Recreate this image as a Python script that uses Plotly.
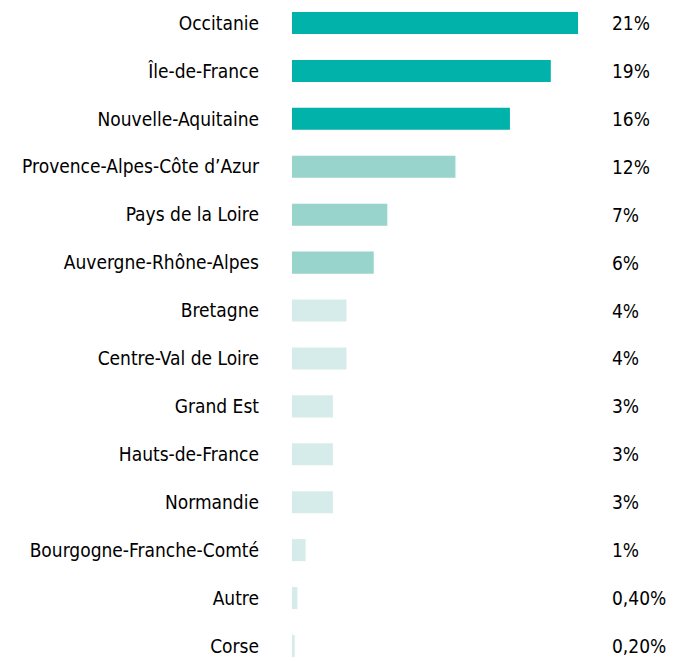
import plotly.graph_objects as go

regions = ["Occitanie", "Île-de-France", "Nouvelle-Aquitaine", "Provence-Alpes-Côte d’Azur",
           "Pays de la Loire", "Auvergne-Rhône-Alpes", "Bretagne", "Centre-Val de Loire",
           "Grand Est", "Hauts-de-France", "Normandie", "Bourgogne-Franche-Comté",
           "Autre", "Corse"]
shares = [21, 19, 16, 12, 7, 6, 4, 4, 3, 3, 3, 1, 0.4, 0.2]
share_labels = ["21%", "19%", "16%", "12%", "7%", "6%", "4%", "4%", "3%", "3%", "3%",
                "1%", "0,40%", "0,20%"]

DARK, MID, LIGHT = "#00b2a9", "#98d3cc", "#d6ecea"
colors = [DARK if v >= 15 else MID if v >= 5 else LIGHT for v in shares]

FONT = "DejaVu Sans Condensed, Liberation Sans Narrow, Arial Narrow, sans-serif"
SIZE = 19

fig = go.Figure(go.Bar(
    x=shares, y=regions, orientation="h",
    marker=dict(color=colors, line=dict(width=0)),
    width=0.46, hoverinfo="skip",
))

for r, lab in zip(regions, share_labels):
    fig.add_annotation(x=1.006, xref="paper", y=r, yref="y", text=lab,
                       showarrow=False, xanchor="left",
                       font=dict(family=FONT, size=SIZE, color="#000"))

# the page body adds an 8px offset, so margins/ranges are shifted to compensate
fig.update_layout(
    width=683, height=661,
    margin=dict(l=284, r=83, t=0, b=0, autoexpand=False),
    plot_bgcolor="white", paper_bgcolor="white",
    showlegend=False,
    font=dict(family=FONT, size=SIZE, color="#000"),
    xaxis=dict(range=[0, 23.2], visible=False, automargin=False),
    yaxis=dict(range=[13.48, -0.313], autorange=False, showgrid=False, zeroline=False,
               automargin=False, ticks="", ticklabelstandoff=32,
               tickfont=dict(family=FONT, size=SIZE, color="#000")),
)

fig.write_html("out.html")
